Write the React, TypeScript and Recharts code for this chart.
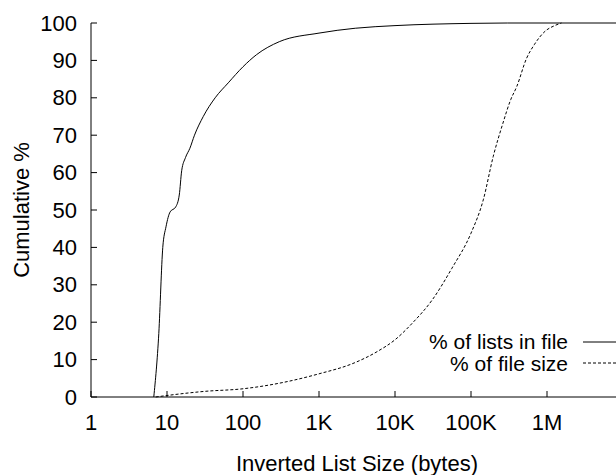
import { LineChart, Line, XAxis, YAxis, Legend, Label } from "recharts";

// x positions (bytes) and cumulative %
const listSizes = [6.7, 7.8, 8.8, 9.7, 11, 13, 14.5, 15.6, 17.5, 20, 23, 30, 43, 64, 100, 150, 300, 1000, 3000, 10000, 100000, 300000, 10000000];
const listPct = [0, 17, 40, 45.5, 49.5, 50.8, 54, 60.5, 64, 66.5, 70, 75, 80, 84, 88.3, 91.5, 95, 97.3, 98.6, 99.3, 99.9, 100, 100];

const fileSizes = [7.1, 10, 31, 100, 339, 1000, 2900, 5900, 10000, 17000, 31000, 56000, 100000, 145000, 196000, 263000, 333000, 400000, 537000, 680000, 970000, 1230000, 1550000];
const filePct = [0, 0.4, 1.5, 2.2, 3.9, 6.2, 9.1, 12.2, 15.3, 19.8, 26, 34.4, 43.8, 52.7, 64.3, 73.2, 79.5, 83, 90.5, 94.2, 98, 99.2, 100];

const xTicks = [1, 10, 100, 1000, 10000, 100000, 1000000];
const xTickLabels = ["1", "10", "100", "1K", "10K", "100K", "1M"];
const yTicks = [0, 10, 20, 30, 40, 50, 60, 70, 80, 90, 100];

const seriesNames = ["% of lists in file", "% of file size"];

const listData = listSizes.map((x, i) => ({ x, y: listPct[i] }));
const fileData = fileSizes.map((x, i) => ({ x, y: filePct[i] }));

const FONT = "'Liberation Sans', Arial, Helvetica, sans-serif";
const FS = 22;

const BottomTick = (props: any) => {
  const { x, y, payload } = props;
  const idx = xTicks.indexOf(payload.value);
  return (
    <g>
      <line x1={x} y1={y} x2={x} y2={y - 6} stroke="#000" />
      <text x={x} y={y + 25} textAnchor="middle" dominantBaseline="central" fontSize={FS} fontFamily={FONT} fill="#000">
        {idx >= 0 ? xTickLabels[idx] : ""}
      </text>
    </g>
  );
};

const TopTick = (props: any) => {
  const { x, y } = props;
  return <line x1={x} y1={y} x2={x} y2={y + 6} stroke="#000" />;
};

const LeftTick = (props: any) => {
  const { x, y, payload } = props;
  return (
    <g>
      <line x1={x} y1={y} x2={x + 6} y2={y} stroke="#000" />
      <text x={x - 14} y={y} textAnchor="end" dominantBaseline="central" fontSize={FS} fontFamily={FONT} fill="#000">
        {payload.value}
      </text>
    </g>
  );
};

const LegendBox = () => (
  <div style={{ fontFamily: FONT, fontSize: 21, color: "#000" }}>
    {seriesNames.map((name, i) => (
      <div key={name} style={{ display: "flex", alignItems: "center", height: 21.5 }}>
        <span style={{ width: 188, textAlign: "right", lineHeight: "21px", whiteSpace: "nowrap" }}>{name}</span>
        <svg width={60} height={10} style={{ marginLeft: 15 }}>
          <line x1={0} y1={5} x2={60} y2={5} stroke="#000" strokeWidth={1} strokeDasharray={i === 1 ? "3 2" : undefined} />
        </svg>
      </div>
    ))}
  </div>
);

const App = () => {
  return (
    <div style={{ position: "fixed", left: 0, top: 0, width: 616, height: 475, overflow: "hidden", background: "#fff" }}>
      <LineChart width={640} height={475} margin={{ top: 23, right: 17, left: 0, bottom: 0 }}>
        <XAxis
          xAxisId="bottom"
          dataKey="x"
          type="number"
          scale="log"
          domain={[1, 10000000]}
          ticks={xTicks}
          allowDataOverflow
          height={78}
          tickSize={0}
          tickMargin={0}
          tickLine={false}
          axisLine={{ stroke: "#000" }}
          tick={<BottomTick />}
          interval={0}
        >
          <Label
            content={({ viewBox }: any) => (
              <text
                x={viewBox.x + viewBox.width / 2}
                y={viewBox.y + 66}
                textAnchor="middle"
                dominantBaseline="central"
                fontSize={FS}
                fontFamily={FONT}
                fill="#000"
              >
                Inverted List Size (bytes)
              </text>
            )}
          />
        </XAxis>
        <XAxis
          xAxisId="top"
          orientation="top"
          dataKey="x"
          type="number"
          scale="log"
          domain={[1, 10000000]}
          ticks={xTicks}
          allowDataOverflow
          height={0}
          tickSize={0}
          tickMargin={0}
          tickLine={false}
          axisLine={{ stroke: "#000" }}
          tick={<TopTick />}
          interval={0}
        />
        <YAxis
          type="number"
          domain={[0, 100]}
          ticks={yTicks}
          width={91}
          tickSize={0}
          tickMargin={0}
          tickLine={false}
          axisLine={{ stroke: "#000" }}
          tick={<LeftTick />}
          interval={0}
        >
          <Label
            content={({ viewBox }: any) => {
              const cx = 21;
              const cy = viewBox.y + viewBox.height / 2;
              return (
                <text
                  x={cx}
                  y={cy}
                  transform={`rotate(-90 ${cx} ${cy})`}
                  textAnchor="middle"
                  dominantBaseline="central"
                  fontSize={FS}
                  fontFamily={FONT}
                  fill="#000"
                >
                  Cumulative %
                </text>
              );
            }}
          />
        </YAxis>
        <Line
          xAxisId="bottom"
          data={listData}
          dataKey="y"
          name={seriesNames[0]}
          type="monotone"
          stroke="#000"
          strokeWidth={1}
          dot={false}
          activeDot={false}
          isAnimationActive={false}
        />
        <Line
          xAxisId="bottom"
          data={fileData}
          dataKey="y"
          name={seriesNames[1]}
          type="monotone"
          stroke="#000"
          strokeWidth={1}
          strokeDasharray="3 2"
          dot={false}
          activeDot={false}
          isAnimationActive={false}
        />
        <Legend
          layout="horizontal"
          verticalAlign="middle"
          align="center"
          content={<LegendBox />}
          wrapperStyle={{ position: "absolute", left: 380, top: 331, width: 280, height: 43 }}
        />
      </LineChart>
    </div>
  );
};

export default App;
